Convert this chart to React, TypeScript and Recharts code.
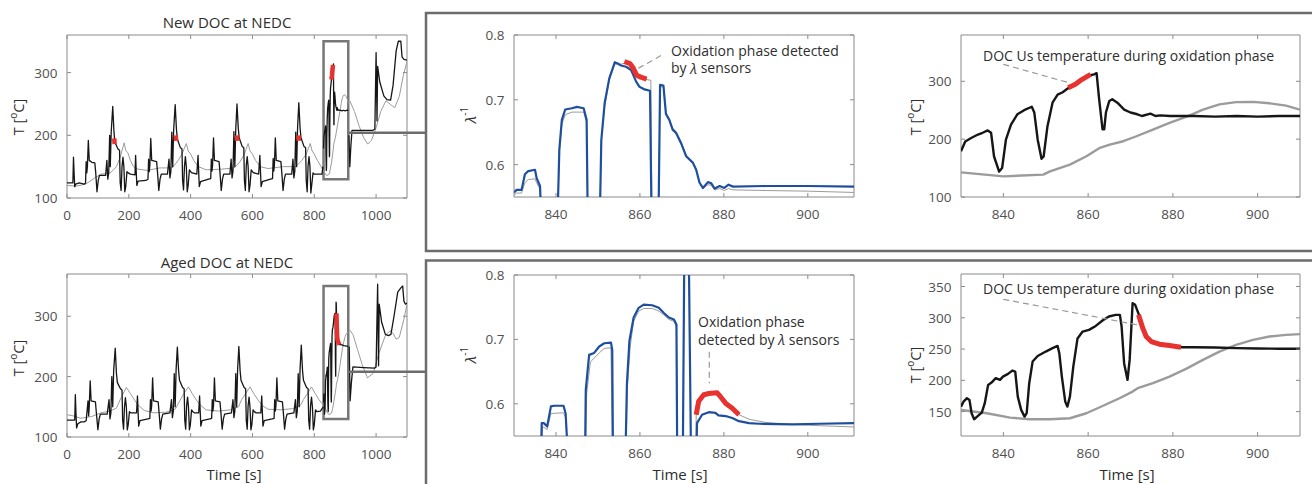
import React from 'react';
import { LineChart, Line, XAxis, YAxis, ReferenceArea } from 'recharts';

type Pt = { t: number; v: number | null };
const toPts = (arr: (number | null)[][]): Pt[] => arr.map(([t, v]) => ({ t: t as number, v }));

// ---------- axis ticks ----------
const leftXTicks = [0, 200, 400, 600, 800, 1000];
const leftYTicks = [100, 200, 300];
const zoomXTicks = [840, 860, 880, 900];
const lambdaYTicks = [0.6, 0.7, 0.8];
const newTempYTicks = [100, 200, 300];
const agedTempYTicks = [150, 200, 250, 300, 350];

// ---------- New DOC at NEDC (overview) ----------
const newBlackCycles = toPts([
  [0,124],[19,124],[21,165],[23,140],[25,118],[28,122],[40,124],[55,122],[60,124],[62,158],[64,140],[66,150],[69,192],[72,160],[80,157],[90,156],[93,140],[97,110],[101,128],[105,136],[125,136],[129,160],[132,130],[135,140],[138,200],[140,150],[143,205],[148,246],[152,205],[155,189],[165,178],[170,176],[172,125],[175,112],[178,150],[181,165],[184,150],[187,110],[190,118],[194,142],[198,140],
  [205,138],[220,137],[222,168],[224,142],[226,120],[230,127],[255,128],[262,130],[264,162],[266,142],[268,152],[271,195],[274,160],[290,158],[293,140],[297,112],[301,130],[305,138],[325,138],[330,162],[333,132],[336,142],[339,205],[342,150],[345,208],[350,249],[354,210],[357,194],[367,180],[372,178],[374,128],[377,113],[380,150],[383,166],[386,150],[389,110],[392,120],[396,145],[400,142],
  [405,140],[420,138],[424,168],[426,142],[428,118],[432,126],[458,130],[465,131],[467,162],[469,143],[471,152],[474,196],[477,160],[492,158],[495,140],[499,112],[503,130],[507,138],[527,138],[531,162],[534,132],[537,143],[540,206],[543,150],[546,210],[550,250],[554,212],[557,196],[567,182],[572,180],[574,128],[577,112],[580,152],[583,166],[586,150],[589,110],[592,120],[596,145],[600,142],
  [605,140],[620,138],[624,168],[626,142],[628,118],[632,126],[658,130],[665,131],[667,163],[669,143],[671,152],[674,196],[677,160],[692,158],[695,140],[699,112],[703,130],[707,138],[727,138],[731,162],[734,132],[737,143],[740,205],[743,150],[746,212],[750,252],[754,212],[757,196],[767,182],[772,180],[774,128],[777,110],[780,152],[783,166],[786,150],[789,108],[792,122],[796,140],[800,138],[815,138],[825,138],[828,150],
]);
const newBlackEudc = toPts([
  [912,200],[915,150],[918,180],[922,208],[960,208],[990,208],[996,210],[1000,332],[1002,260],[1003,223],[1005,310],[1012,285],[1025,263],[1035,257],[1047,256],[1055,280],[1065,335],[1072,350],[1080,350],[1084,325],[1090,321],[1100,320],
]);
const newGrayCycles = toPts([
  [0,120],[30,119],[60,122],[90,132],[110,138],[140,140],[160,150],[172,165],[185,188],[190,176],[197,172],[205,160],[215,150],[230,146],[260,144],[300,148],[340,148],[360,160],[372,170],[386,187],[392,175],[400,170],[410,160],[425,150],[450,145],[500,146],[540,148],[560,158],[574,170],[586,187],[592,175],[600,170],[610,160],[625,150],[650,147],[700,150],[740,150],[760,160],[774,170],[787,187],[793,175],[800,170],[810,160],[822,150],[829,143],
]);
const newGrayEudc = toPts([
  [915,255],[930,238],[945,215],[960,196],[973,186],[985,192],[1000,212],[1015,238],[1032,255],[1047,249],[1060,244],[1075,262],[1088,295],[1100,318],
]);
const newRedOverview = toPts([
  [153,195],[154,186],[155,null],[352,200],[353,191],[354,null],[550,200],[551,191],[552,null],[749,200],[750,191],[751,null],[855.3,289],[857,295],[858.5,303],[860.6,312],
]);

// ---------- New DOC, 830-910 s ----------
const newLambdaBlue = toPts([
  [830,0.557],[830.6,0.561],[831.8,0.561],[832.6,0.585],[833.4,0.59],[835,0.592],[835.4,0.579],[836.2,0.567],[836.6,0.5],[840.3,0.5],[840.8,0.623],[841.4,0.669],[842.2,0.685],[843.8,0.687],[845,0.689],[846.6,0.687],[847.3,0.669],[847.6,0.5],[850.4,0.5],[850.8,0.638],[851.6,0.695],[852.7,0.733],[853.5,0.748],[854,0.758],[854.7,0.756],[855.5,0.753],[856.7,0.751],[857.9,0.746],[859.1,0.728],[859.9,0.72],[861.1,0.716],[862.4,0.714],[862.8,0.5],[864.4,0.5],[864.8,0.723],[865.6,0.722],[866.2,0.678],[867,0.669],[867.8,0.654],[868.6,0.649],[869.8,0.633],[871,0.613],[872.6,0.603],[873.4,0.592],[874.2,0.572],[875,0.564],[876.2,0.573],[877,0.571],[877.8,0.563],[879,0.567],[880.1,0.564],[881.1,0.569],[882.2,0.566],[890,0.567],[900,0.567],[911,0.566],
]);
const newLambdaGray = toPts([
  [830,0.553],[830.6,0.556],[831.8,0.556],[832.6,0.572],[833.4,0.577],[835,0.578],[835.4,0.572],[836.2,0.562],[836.6,0.5],[840.3,0.5],[840.8,0.62],[841.4,0.662],[842.2,0.677],[843.8,0.681],[846.6,0.681],[847.3,0.665],[847.6,0.5],[850.4,0.5],[850.8,0.635],[851.6,0.69],[852.7,0.73],[853.5,0.746],[854,0.755],[855.5,0.755],[856.7,0.757],[857.9,0.754],[859.1,0.74],[860,0.735],[861.1,0.732],[862.6,0.73],[862.9,0.5],[864.4,0.5],[864.8,0.72],[865.6,0.72],[866.2,0.68],[867,0.67],[867.8,0.656],[868.6,0.651],[869.8,0.635],[871,0.615],[872.6,0.604],[873.4,0.593],[874.2,0.572],[875,0.563],[876.2,0.569],[877,0.568],[877.8,0.561],[879,0.563],[880.1,0.56],[881.1,0.563],[882.2,0.561],[890,0.56],[900,0.559],[911,0.557],
]);
const newLambdaRed = toPts([
  [856.3,0.759],[857.6,0.756],[858.4,0.749],[859.2,0.738],[860.2,0.735],[861.6,0.732],
]);
const newTempBlack = toPts([
  [830,179],[831,196],[832.4,202],[834,208],[835.1,211],[836.3,215],[837.1,211],[837.8,170],[839,144],[839.7,150],[840.6,199],[841.8,225],[843.3,243],[844.9,250],[846.7,256],[847.3,246],[848.1,199],[849,166],[849.5,170],[850.4,222],[851.6,263],[852.8,277],[854,281],[855.1,287],[856.7,295],[858.3,303],[860.2,310],[861.4,312],[862,314],[862.6,269],[863.4,217],[863.8,217],[864.2,246],[865,266],[865.7,269],[866.9,263],[868.5,251],[870,246],[871.6,243],[872.7,240],[874.7,244],[875.9,240],[877,241],[879.4,240],[885,240],[890,239],[895,240],[900,239],[905,240],[910,240],
]);
const newTempGray = toPts([
  [830,142.6],[840,135.7],[849.4,138.6],[851,144.4],[855.7,156],[859.6,170.4],[862.8,185],[865.1,190.6],[868.3,196.4],[871.4,205],[875.3,216.6],[879.2,228],[883.6,239.7],[887.1,251],[891,260],[894.9,264],[898.9,264.5],[902.8,262],[906.7,258],[910,251],
]);
const newTempRed = toPts([
  [855.3,289],[857,295],[858.5,303],[860.6,312],
]);

// ---------- Aged DOC at NEDC (overview) ----------
const agedBlackCycles = toPts([
  [0,128],[25,128],[27,170],[29,140],[31,115],[35,122],[45,125],[55,125],[62,127],[68,160],[70,135],[72,150],[75,193],[78,160],[92,158],[95,140],[100,112],[104,130],[108,138],[130,138],[136,162],[139,130],[142,140],[145,200],[148,150],[151,210],[156,247],[160,205],[163,190],[173,180],[178,178],[180,128],[183,113],[186,150],[189,165],[192,150],[195,112],[198,120],[202,142],[206,140],
  [210,140],[225,140],[228,168],[230,142],[232,118],[236,127],[262,130],[268,131],[270,162],[272,143],[274,152],[277,198],[280,160],[295,158],[298,140],[302,113],[306,130],[310,138],[333,140],[338,162],[341,132],[344,143],[347,205],[350,150],[353,212],[357,249],[361,210],[364,194],[374,182],[379,180],[381,128],[384,113],[387,152],[390,166],[393,150],[396,112],[399,120],[403,145],[407,142],
  [412,140],[426,140],[429,168],[431,142],[433,118],[437,127],[462,130],[468,131],[470,162],[472,143],[474,152],[477,198],[480,160],[495,158],[498,140],[502,113],[506,130],[510,138],[532,140],[537,162],[540,132],[543,143],[546,205],[549,150],[552,212],[556,250],[560,210],[563,194],[573,182],[578,180],[580,128],[583,113],[586,152],[589,166],[592,150],[595,112],[598,120],[602,145],[606,142],
  [612,140],[627,140],[630,168],[632,142],[634,118],[638,127],[664,130],[670,131],[672,162],[674,143],[676,152],[679,198],[682,160],[697,158],[700,140],[704,113],[708,130],[712,138],[734,140],[739,162],[742,132],[745,143],[748,205],[751,150],[754,212],[758,252],[762,210],[765,194],[775,182],[780,180],[782,128],[785,113],[788,152],[791,166],[794,150],[797,112],[800,120],[804,145],[808,142],[820,143],[829,150],
]);
const agedBlackEudc = toPts([
  [913,250],[916,160],[920,190],[925,216],[960,215],[995,214],[1000,216],[1005,353],[1007,260],[1008,218],[1010,320],[1018,290],[1030,270],[1040,268],[1048,270],[1058,300],[1070,340],[1080,347],[1086,350],[1090,325],[1095,320],[1100,322],
]);
const agedGrayCycles = toPts([
  [0,137],[20,135],[45,131],[80,134],[110,140],[140,143],[160,148],[175,165],[192,182],[205,172],[220,160],[232,152],[250,144],[280,140],[320,141],[350,146],[365,160],[378,172],[393,183],[405,172],[420,160],[433,152],[450,145],[490,143],[530,145],[555,150],[565,162],[578,172],[592,183],[604,172],[620,160],[632,152],[650,146],[690,145],[730,147],[755,152],[765,162],[778,172],[791,183],[803,172],[815,162],[829,153],
]);
const agedGrayEudc = toPts([
  [915,277],[925,270],[940,245],[955,220],[972,198],[990,205],[1010,240],[1030,268],[1045,276],[1055,272],[1065,262],[1075,265],[1090,295],[1100,320],
]);

// ---------- Aged DOC, 830-910 s ----------
const agedLambdaBlue = toPts([
  [830,0.5],[836.4,0.5],[836.6,0.57],[837.1,0.57],[837.9,0.565],[838.8,0.596],[839.5,0.597],[841.8,0.597],[842.3,0.585],[843,0.5],[846.9,0.5],[847.1,0.622],[847.9,0.676],[849.1,0.679],[850.3,0.689],[851.5,0.694],[853.1,0.695],[853.4,0.684],[853.6,0.5],[856.5,0.5],[856.9,0.631],[857.5,0.698],[858.5,0.734],[859.7,0.749],[860.9,0.754],[862.9,0.753],[864.5,0.749],[865.7,0.741],[866.9,0.734],[868.1,0.731],[868.7,0.723],[868.9,0.5],[870.2,0.5],[870.6,0.86],[871.6,0.86],[872.2,0.5],[873.4,0.5],[873.6,0.57],[874.8,0.583],[876.4,0.587],[878,0.586],[878.7,0.582],[880.4,0.581],[882,0.578],[883.6,0.573],[886,0.57],[888.4,0.569],[896.4,0.568],[902.7,0.569],[911,0.57],
]);
const agedLambdaGray = toPts([
  [830,0.5],[836.5,0.5],[836.8,0.565],[837.9,0.56],[838.8,0.585],[841.8,0.586],[842.3,0.578],[843,0.5],[847,0.5],[847.3,0.615],[848.2,0.665],[850.3,0.679],[851.5,0.686],[853.1,0.687],[853.5,0.5],[856.6,0.5],[857,0.625],[857.7,0.69],[858.5,0.728],[859.7,0.744],[860.9,0.748],[862.9,0.748],[864.5,0.744],[865.7,0.738],[866.9,0.731],[868.1,0.728],[868.7,0.72],[869,0.5],[873.3,0.5],[873.4,0.583],[874,0.604],[875.2,0.614],[876.4,0.616],[878.4,0.617],[879.2,0.611],[880.4,0.601],[882,0.593],[883.6,0.583],[886,0.576],[890,0.571],[896,0.568],[903,0.566],[911,0.564],
]);
const agedLambdaRed = toPts([
  [873.4,0.583],[874,0.604],[875.2,0.614],[876.4,0.616],[878.4,0.617],[879.2,0.611],[880.4,0.601],[882,0.593],[883.6,0.583],
]);
const agedTempBlack = toPts([
  [830,158],[830.6,166],[831.4,171.5],[832,168.7],[832.5,147.4],[833.1,137.8],[833.8,142],[834.9,148.4],[835.6,163],[836.4,192.7],[837.2,196.4],[838.2,203.4],[839.2,200.7],[839.9,206],[841.1,210.3],[842.1,215.6],[842.8,214],[843.4,174],[844.2,152.7],[845,142],[845.5,147.4],[846.1,195.4],[846.9,230],[848.1,239],[850,246],[851.6,251.4],[852.8,255],[853.2,243.4],[853.8,206],[854.6,166],[855.1,158],[855.7,174],[856.5,222],[857.5,267],[858.7,278],[860.2,280.7],[861.8,287],[863.4,295.7],[864.9,302],[866.5,304.7],[867.5,304.7],[867.9,286],[868.5,227],[869.3,200.7],[869.8,232.7],[870.5,323.4],[871.1,320.7],[872,304.7],[872.9,283.4],[873.7,270],[874.9,262],[876.8,257.8],[879.2,255.6],[881.9,253],[885,253],[890,252.5],[895,251.5],[900,251],[905,250.5],[910,250.5],
]);
const agedTempGray = toPts([
  [830,152.7],[836.1,147.4],[841.6,140.4],[846.1,137.8],[851,137.8],[855.7,139.4],[859.6,147.4],[863.4,159],[867.4,171.4],[870.5,182],[871.7,187.4],[875.3,195.4],[879.2,206],[883.1,218.3],[887.1,232.7],[891,246],[894.9,256.7],[898.9,264.7],[902.8,270],[906.7,272.7],[910,273.8],
]);
const agedTempRed = toPts([
  [871.9,304.7],[872.9,283.4],[873.7,270],[874.9,262],[876.8,257.8],[879.2,255.6],[881.9,253],
]);

// ---------- styles ----------
const FONT = "'Open Sans', 'Noto Sans', sans-serif";
const AXIS = '#8a8a8a';
const TICK = '#505050';
const TEXT = '#2e2e2e';
const FRAME = '#6c6c6c';
const BLACK = '#161616';
const GRAY = '#9b9b9b';
const BLUE = '#1e4f9e';
const RED = '#e8322f';

const makeXTick = (plotH: number) => (props: any) => {
  const { x, y, payload } = props;
  return (
    <g>
      <line x1={x} y1={y} x2={x} y2={y - 4} stroke={AXIS} strokeWidth={1} />
      <line x1={x} y1={y - plotH} x2={x} y2={y - plotH + 4} stroke={AXIS} strokeWidth={1} />
      <text x={x} y={y + 21.5} textAnchor="middle" fill={TICK} fontSize={13.5} fontFamily={FONT}>
        {String(payload.value)}
      </text>
    </g>
  );
};
const makeYTick = (plotW: number, fmt: (v: number) => string) => (props: any) => {
  const { x, y, payload } = props;
  return (
    <g>
      <line x1={x} y1={y} x2={x + 4} y2={y} stroke={AXIS} strokeWidth={1} />
      <line x1={x + plotW} y1={y} x2={x + plotW - 4} y2={y} stroke={AXIS} strokeWidth={1} />
      <text x={x - 9.5} y={y + 5} textAnchor="end" fill={TICK} fontSize={13.5} fontFamily={FONT}>
        {fmt(payload.value)}
      </text>
    </g>
  );
};

interface PanelProps {
  left: number; top: number; w: number; h: number;
  xDomain: [number, number]; yDomain: [number, number];
  xTicks: number[]; yTicks: number[];
  yFmt?: (v: number) => string;
  children?: React.ReactNode;
}

const Panel = ({ left, top, w, h, xDomain, yDomain, xTicks, yTicks, yFmt, children }: PanelProps) => {
  const fmt = yFmt || ((v: number) => String(v));
  return (
    <div style={{ position: 'absolute', left: left - 55, top: top - 10 }}>
      <LineChart width={w + 65} height={h + 40} margin={{ top: 10, right: 10, left: 0, bottom: 0 }}>
        <XAxis type="number" dataKey="t" domain={xDomain} ticks={xTicks} interval={0} allowDataOverflow
          height={30} tickLine={false} axisLine={false} tickSize={0} tickMargin={0} tick={makeXTick(h)} />
        <YAxis type="number" domain={yDomain} ticks={yTicks} interval={0} allowDataOverflow
          width={55} tickLine={false} axisLine={false} tickSize={0} tickMargin={0} tick={makeYTick(w, fmt)} />
        {children}
        <ReferenceArea x1={xDomain[0]} x2={xDomain[1]} y1={yDomain[0]} y2={yDomain[1]}
          fill="none" stroke={AXIS} strokeWidth={1} ifOverflow="visible" />
      </LineChart>
    </div>
  );
};

const ln = (data: Pt[], stroke: string, width: number, key: string) => (
  <Line key={key} data={data} dataKey="v" type="linear" dot={false} activeDot={false}
    stroke={stroke} strokeWidth={width} isAnimationActive={false} connectNulls={false}
    strokeLinejoin="round" />
);

const TLabel = ({ x, y }: { x: number; y: number }) => (
  <text transform={`translate(${x},${y}) rotate(-90)`} textAnchor="middle" dominantBaseline="central"
    fontSize={14.5} fontFamily={FONT} fill={TEXT}>
    T [<tspan fontSize={10} dy={-5}>o</tspan><tspan dy={5}>C]</tspan>
  </text>
);
const LambdaLabel = ({ x, y }: { x: number; y: number }) => (
  <text transform={`translate(${x},${y}) rotate(-90)`} textAnchor="middle" dominantBaseline="central"
    fontSize={15} fontFamily={FONT} fill={TEXT}>
    <tspan fontStyle="italic">λ</tspan><tspan fontSize={10} dy={-6}>-1</tspan>
  </text>
);

export default function App() {
  const fmt1 = (v: number) => v.toFixed(1);
  return (
    <div style={{ position: 'absolute', left: 0, top: 0, width: 1312, height: 484, background: '#fff', fontFamily: FONT, overflow: 'hidden' }}>
      {/* New DOC overview */}
      <Panel left={67} top={35} w={340} h={163} xDomain={[0, 1100]} yDomain={[100, 360]} xTicks={leftXTicks} yTicks={leftYTicks}>
        {ln(newGrayCycles, GRAY, 1, 'g1')}
        {ln(newTempGray, GRAY, 1, 'g2')}
        {ln(newGrayEudc, GRAY, 1, 'g3')}
        {ln(newBlackCycles, BLACK, 1.3, 'b1')}
        {ln(newTempBlack, BLACK, 1.3, 'b2')}
        {ln(newBlackEudc, BLACK, 1.3, 'b3')}
        {ln(newRedOverview, RED, 4.5, 'r1')}
        <ReferenceArea x1={830} x2={910} y1={130} y2={350} fill="none" stroke="#777" strokeWidth={2.5} />
      </Panel>
      {/* Aged DOC overview */}
      <Panel left={67} top={274} w={340} h={163} xDomain={[0, 1100]} yDomain={[100, 370]} xTicks={leftXTicks} yTicks={leftYTicks}>
        {ln(agedGrayCycles, GRAY, 1, 'g1')}
        {ln(agedTempGray, GRAY, 1, 'g2')}
        {ln(agedGrayEudc, GRAY, 1, 'g3')}
        {ln(agedBlackCycles, BLACK, 1.3, 'b1')}
        {ln(agedTempBlack, BLACK, 1.3, 'b2')}
        {ln(agedBlackEudc, BLACK, 1.3, 'b3')}
        {ln(agedTempRed, RED, 4.5, 'r1')}
        <ReferenceArea x1={830} x2={910} y1={130} y2={350} fill="none" stroke="#777" strokeWidth={2.5} />
      </Panel>
      {/* New lambda */}
      <Panel left={514} top={35} w={340} h={162} xDomain={[830, 911]} yDomain={[0.55, 0.8]} xTicks={zoomXTicks} yTicks={lambdaYTicks} yFmt={fmt1}>
        {ln(newLambdaGray, GRAY, 1, 'g')}
        {ln(newLambdaBlue, BLUE, 2.2, 'bl')}
        {ln(newLambdaRed, RED, 5, 'r')}
      </Panel>
      {/* Aged lambda */}
      <Panel left={514} top={275} w={340} h={161} xDomain={[830, 911]} yDomain={[0.55, 0.8]} xTicks={zoomXTicks} yTicks={lambdaYTicks} yFmt={fmt1}>
        {ln(agedLambdaGray, GRAY, 1, 'g')}
        {ln(agedLambdaBlue, BLUE, 2.2, 'bl')}
        {ln(agedLambdaRed, RED, 5, 'r')}
      </Panel>
      {/* New temperature zoom */}
      <Panel left={961} top={35} w={339} h={162} xDomain={[830, 910]} yDomain={[100, 380]} xTicks={zoomXTicks} yTicks={newTempYTicks}>
        {ln(newTempGray, GRAY, 2.4, 'g')}
        {ln(newTempBlack, BLACK, 2.4, 'b')}
        {ln(newTempRed, RED, 5, 'r')}
      </Panel>
      {/* Aged temperature zoom */}
      <Panel left={961} top={274} w={339} h={162} xDomain={[830, 910]} yDomain={[111, 370]} xTicks={zoomXTicks} yTicks={agedTempYTicks}>
        {ln(agedTempGray, GRAY, 2.4, 'g')}
        {ln(agedTempBlack, BLACK, 2.4, 'b')}
        {ln(agedTempRed, RED, 5, 'r')}
      </Panel>

      <svg width={1312} height={484} style={{ position: 'absolute', left: 0, top: 0, pointerEvents: 'none' }}>
        {/* frames and connectors */}
        <path d="M1320,13 H426 V251 H1320" fill="none" stroke={FRAME} strokeWidth={2.5} />
        <path d="M1320,260.5 H426 V495" fill="none" stroke={FRAME} strokeWidth={2.5} />
        <line x1={349} y1={132.7} x2={426} y2={132.7} stroke={FRAME} strokeWidth={2.5} />
        <line x1={349} y1={371.7} x2={426} y2={371.7} stroke={FRAME} strokeWidth={2.5} />

        {/* titles */}
        <text x={227} y={22} textAnchor="middle" dominantBaseline="central" fontSize={15} fontFamily={FONT} fill={TEXT}>New DOC at NEDC</text>
        <text x={227} y={262} textAnchor="middle" dominantBaseline="central" fontSize={15} fontFamily={FONT} fill={TEXT}>Aged DOC at NEDC</text>

        {/* axis labels */}
        <TLabel x={18} y={117} />
        <TLabel x={18} y={358} />
        <TLabel x={915} y={117} />
        <TLabel x={915} y={365} />
        <LambdaLabel x={470} y={115} />
        <LambdaLabel x={470} y={355} />
        <text x={234} y={474} textAnchor="middle" dominantBaseline="central" fontSize={15} fontFamily={FONT} fill={TEXT}>Time [s]</text>
        <text x={680} y={474} textAnchor="middle" dominantBaseline="central" fontSize={15} fontFamily={FONT} fill={TEXT}>Time [s]</text>
        <text x={1127} y={474} textAnchor="middle" dominantBaseline="central" fontSize={15} fontFamily={FONT} fill={TEXT}>Time [s]</text>

        {/* annotations */}
        <line x1={638.3} y1={68.3} x2={663.3} y2={54.3} stroke="#999" strokeWidth={1.2} strokeDasharray="6 4" />
        <text x={671} y={50} dominantBaseline="central" fontSize={14} fontFamily={FONT} fill={TEXT}>Oxidation phase detected</text>
        <text x={671} y={67.5} dominantBaseline="central" fontSize={14} fontFamily={FONT} fill={TEXT}>by <tspan fontStyle="italic">λ</tspan> sensors</text>

        <line x1={709.3} y1={351.7} x2={709.3} y2={383.3} stroke="#999" strokeWidth={1.2} strokeDasharray="6 4" />
        <text x={698} y={321.7} dominantBaseline="central" fontSize={14} fontFamily={FONT} fill={TEXT}>Oxidation phase</text>
        <text x={698} y={339.3} dominantBaseline="central" fontSize={14} fontFamily={FONT} fill={TEXT}>detected by  <tspan fontStyle="italic">λ</tspan> sensors</text>

        <line x1={1003.3} y1={64.3} x2={1067.3} y2={82.3} stroke="#999" strokeWidth={1.2} strokeDasharray="6 4" />
        <text x={983} y={55} dominantBaseline="central" fontSize={14} fontFamily={FONT} fill={TEXT}>DOC Us temperature during oxidation phase</text>

        <line x1={1003.3} y1={299.3} x2={1138.3} y2={325} stroke="#999" strokeWidth={1.2} strokeDasharray="6 4" />
        <text x={983} y={288.3} dominantBaseline="central" fontSize={14} fontFamily={FONT} fill={TEXT}>DOC Us temperature during oxidation phase</text>
      </svg>
    </div>
  );
}
